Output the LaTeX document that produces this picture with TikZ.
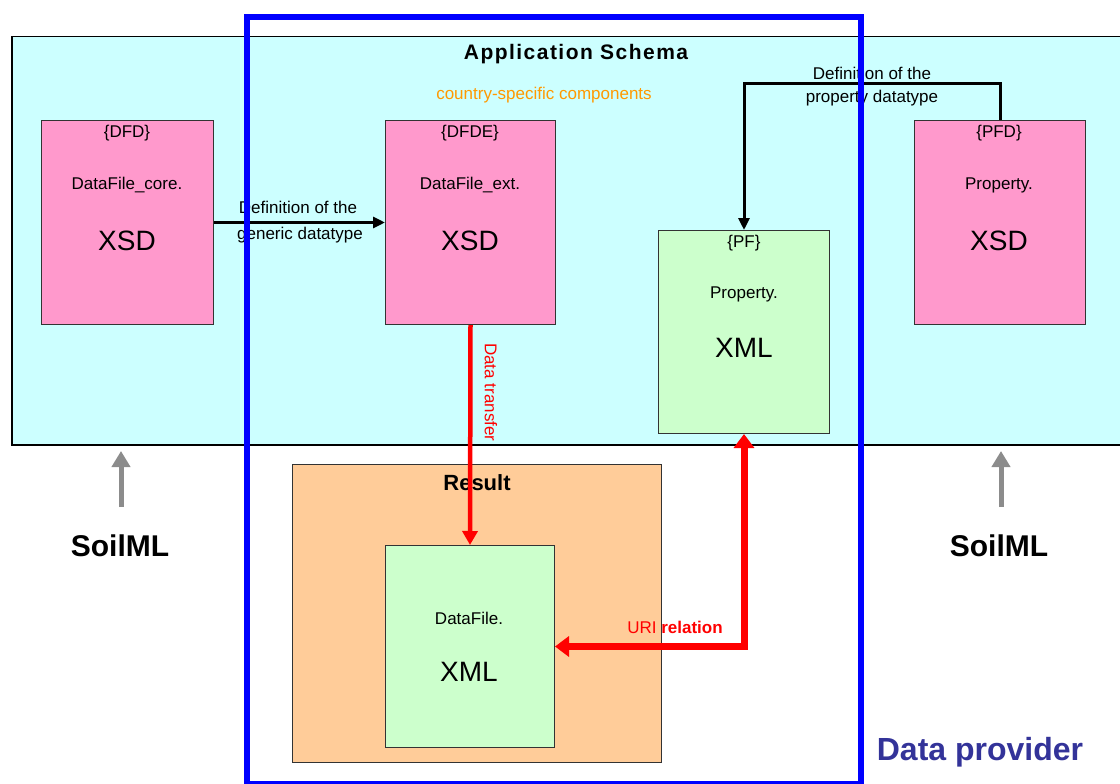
\documentclass[tikz,border=0pt]{standalone}
\usepackage{fontspec}
\setmainfont{Liberation Sans}
\newfontfamily\spacedsans[LetterSpace=7]{Liberation Sans}
\usetikzlibrary{arrows.meta}
\definecolor{cyanbg}{HTML}{CCFFFF}
\definecolor{pinkbox}{HTML}{FF99CC}
\definecolor{greenbox}{HTML}{CCFFCC}
\definecolor{orangebox}{HTML}{FFCC99}
\definecolor{provblue}{HTML}{333399}
\definecolor{comporange}{HTML}{FF9900}
\definecolor{arrowgray}{HTML}{8C8C8C}
\definecolor{boxline}{HTML}{333333}
\begin{document}
\begin{tikzpicture}[x=1pt,y=-1pt,
  box/.style={draw=boxline, line width=1pt, inner sep=0pt, anchor=north west},
  pinkbx/.style={box, fill=pinkbox},
  greenbx/.style={box, fill=greenbox},
  txt/.style={font=\fontsize{17}{20}\selectfont, inner sep=0pt},
  bigtxt/.style={font=\fontsize{28}{32}\selectfont, inner sep=0pt},
  blackarrow/.style={draw=black, line width=3pt, -{Triangle[length=12pt,width=11pt]}},
  redarrow/.style={draw=red, line width=4.5pt, -{Triangle[length=14pt,width=15pt]}},
  grayarrow/.style={draw=arrowgray, line width=5pt, -{Triangle[length=16pt,width=18pt]}},
  soil/.style={font=\fontsize{30}{34}\selectfont\bfseries, inner sep=0pt}
]
\useasboundingbox (0,0) rectangle (1120,784);
\clip (0,0) rectangle (1120,784);

% application schema background
\node[box, draw=black, line width=1.5pt, fill=cyanbg, minimum width=1130pt, minimum height=408pt] (app) at (11,36) {};
\node[font=\spacedsans\fontsize{21}{24}\selectfont\bfseries, inner sep=0pt] (apptitle) at (576,54) {Application Schema};
\node[txt, text=comporange] (country) at (544,95) {country-specific components};

% schema boxes
\node[pinkbx, minimum width=172pt, minimum height=204pt] (dfd) at (41,120) {};
\node[pinkbx, minimum width=170pt, minimum height=204pt] (dfde) at (385,120) {};
\node[pinkbx, minimum width=171pt, minimum height=204pt] (pfd) at (914,120) {};
\node[greenbx, minimum width=171pt, minimum height=203pt] (pf) at (658,230) {};

\node[txt] (dfdtag) at (127,133) {\{DFD\}};
\node[txt] (dfdname) at (127,185) {DataFile\_core.};
\node[bigtxt] (dfdxsd) at (127,241) {XSD};

\node[txt] (dfdetag) at (470,133) {\{DFDE\}};
\node[txt] (dfdename) at (470,185) {DataFile\_ext.};
\node[bigtxt] (dfdexsd) at (470,241) {XSD};

\node[txt] (pfdtag) at (999,133) {\{PFD\}};
\node[txt] (pfdname) at (999,185) {Property.};
\node[bigtxt] (pfdxsd) at (999,241) {XSD};

\node[txt] (pftag) at (744,243) {\{PF\}};
\node[txt] (pfname) at (744,294) {Property.};
\node[bigtxt] (pfxml) at (744,348) {XML};

% black arrows
\draw[blackarrow] (dfd.east) -- (dfde.west);
\node[txt] (gen1) at (298,207) {Definition of the};
\node[txt] (gen2) at (300,235) {generic datatype};

\draw[blackarrow] (pfd.north) -- ++(0,-36) -| (pf.north);
\node[txt] (prop1) at (872,73) {Definition of the};
\node[txt] (prop2) at (872,98) {property datatype};

% data transfer label (clipped by the schema box)
\begin{scope}
\clip (11,36) rectangle (1120,444);
\node[txt, text=red, rotate=-90, anchor=west] (transfer) at (491,343) {Data transfer};
\end{scope}

% result
\node[box, fill=orangebox, minimum width=369pt, minimum height=298pt] (result) at (292,464) {};
\node[font=\fontsize{22}{26}\selectfont\bfseries, inner sep=0pt] (resulttitle) at (477,483) {Result};
\node[greenbx, minimum width=169pt, minimum height=202pt] (datafile) at (385,545) {};
\node[txt] (dfname) at (469,618) {DataFile.};
\node[bigtxt] (dfxml) at (469,672) {XML};

% red arrows
\draw[redarrow] (dfde.south) -- (datafile.north);
\draw[draw=red, line width=7pt, {Triangle[length=14pt,width=20pt]}-{Triangle[length=14pt,width=20pt]}] (pf.south) |- (datafile.east);
\node[txt, text=red, anchor=base] (uri) at (675,633) {URI \textbf{relation}};

% SoilML
\coordinate (g1s) at (121,507);
\coordinate (g1e) at (121,451);
\coordinate (g2s) at (1001,507);
\coordinate (g2e) at (1001,451);
\draw[grayarrow] (g1s) -- (g1e);
\draw[grayarrow] (g2s) -- (g2e);
\node[soil] (soil1) at (120,546) {SoilML};
\node[soil] (soil2) at (999,546) {SoilML};

% data provider frame
\node[draw=blue, line width=6pt, inner sep=0pt, anchor=north west, minimum width=614pt, minimum height=766pt] (provider) at (244,14.5) {};
\node[font=\fontsize{32}{36}\selectfont\bfseries, text=provblue, inner sep=0pt] (provlabel) at (980,752) {Data provider};
\end{tikzpicture}
\end{document}
